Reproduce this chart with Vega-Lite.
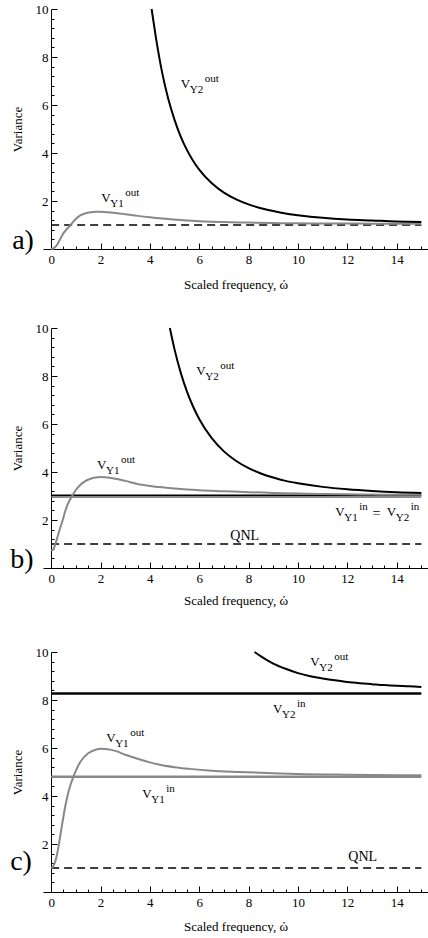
{
  "$schema": "https://vega.github.io/schema/vega-lite/v6.json",
  "padding": {"left": 10, "top": 3, "right": 0, "bottom": 0},
  "spacing": 31,
  "config": {
    "view": {"stroke": null},
    "font": "Liberation Serif",
    "axis": {
      "grid": false, "domainColor": "black", "domainWidth": 1, "tickColor": "black", "tickWidth": 1,
      "labelFont": "Liberation Serif", "labelFontSize": 13, "labelColor": "black",
      "titleFont": "Liberation Serif", "titleFontSize": 13, "titleFontWeight": "normal", "titleColor": "black",
      "labelFlush": false, "labelOverlap": false, "format": "d"
    }
  },
  "datasets": {
    "curves": [
      {"p":"a","s":"Y1out","w":0,"v":0},{"p":"a","s":"Y1out","w":0.1,"v":0.03},{"p":"a","s":"Y1out","w":0.2,"v":0.12},{"p":"a","s":"Y1out","w":0.3,"v":0.28},{"p":"a","s":"Y1out","w":0.4,"v":0.48},{"p":"a","s":"Y1out","w":0.5,"v":0.66},{"p":"a","s":"Y1out","w":0.6,"v":0.79},{"p":"a","s":"Y1out","w":0.7,"v":0.9},{"p":"a","s":"Y1out","w":0.8,"v":1.02},{"p":"a","s":"Y1out","w":0.9,"v":1.14},{"p":"a","s":"Y1out","w":1.0,"v":1.25},{"p":"a","s":"Y1out","w":1.1,"v":1.34},{"p":"a","s":"Y1out","w":1.2,"v":1.41},{"p":"a","s":"Y1out","w":1.4,"v":1.49},{"p":"a","s":"Y1out","w":1.6,"v":1.53},{"p":"a","s":"Y1out","w":1.8,"v":1.55},{"p":"a","s":"Y1out","w":2.0,"v":1.55},{"p":"a","s":"Y1out","w":2.3,"v":1.53},{"p":"a","s":"Y1out","w":2.6,"v":1.5},{"p":"a","s":"Y1out","w":3.0,"v":1.45},{"p":"a","s":"Y1out","w":3.5,"v":1.38},{"p":"a","s":"Y1out","w":4.0,"v":1.32},{"p":"a","s":"Y1out","w":4.5,"v":1.27},{"p":"a","s":"Y1out","w":5.0,"v":1.23},{"p":"a","s":"Y1out","w":5.5,"v":1.19},{"p":"a","s":"Y1out","w":6.0,"v":1.16},{"p":"a","s":"Y1out","w":7.0,"v":1.12},{"p":"a","s":"Y1out","w":8.0,"v":1.1},{"p":"a","s":"Y1out","w":9.0,"v":1.08},{"p":"a","s":"Y1out","w":10,"v":1.07},{"p":"a","s":"Y1out","w":11,"v":1.065},{"p":"a","s":"Y1out","w":12,"v":1.06},{"p":"a","s":"Y1out","w":13,"v":1.055},{"p":"a","s":"Y1out","w":14,"v":1.05},{"p":"a","s":"Y1out","w":15,"v":1.05},
      {"p":"a","s":"Y2out","w":4.07,"v":10},{"p":"a","s":"Y2out","w":4.25,"v":8.78},{"p":"a","s":"Y2out","w":4.5,"v":7.34},{"p":"a","s":"Y2out","w":4.75,"v":6.24},{"p":"a","s":"Y2out","w":5.0,"v":5.38},{"p":"a","s":"Y2out","w":5.25,"v":4.68},{"p":"a","s":"Y2out","w":5.5,"v":4.13},{"p":"a","s":"Y2out","w":5.75,"v":3.68},{"p":"a","s":"Y2out","w":6.0,"v":3.31},{"p":"a","s":"Y2out","w":6.5,"v":2.75},{"p":"a","s":"Y2out","w":7.0,"v":2.35},{"p":"a","s":"Y2out","w":7.5,"v":2.07},{"p":"a","s":"Y2out","w":8.0,"v":1.86},{"p":"a","s":"Y2out","w":8.5,"v":1.7},{"p":"a","s":"Y2out","w":9.0,"v":1.58},{"p":"a","s":"Y2out","w":9.5,"v":1.48},{"p":"a","s":"Y2out","w":10,"v":1.41},{"p":"a","s":"Y2out","w":11,"v":1.3},{"p":"a","s":"Y2out","w":12,"v":1.23},{"p":"a","s":"Y2out","w":13,"v":1.19},{"p":"a","s":"Y2out","w":14,"v":1.15},{"p":"a","s":"Y2out","w":15,"v":1.13},
      {"p":"b","s":"Y1out","w":0,"v":0.76},{"p":"b","s":"Y1out","w":0.05,"v":0.74},{"p":"b","s":"Y1out","w":0.1,"v":0.8},{"p":"b","s":"Y1out","w":0.15,"v":0.93},{"p":"b","s":"Y1out","w":0.2,"v":1.1},{"p":"b","s":"Y1out","w":0.3,"v":1.45},{"p":"b","s":"Y1out","w":0.4,"v":1.78},{"p":"b","s":"Y1out","w":0.47,"v":2.0},{"p":"b","s":"Y1out","w":0.55,"v":2.3},{"p":"b","s":"Y1out","w":0.65,"v":2.6},{"p":"b","s":"Y1out","w":0.75,"v":2.82},{"p":"b","s":"Y1out","w":0.85,"v":3.0},{"p":"b","s":"Y1out","w":1.0,"v":3.25},{"p":"b","s":"Y1out","w":1.2,"v":3.48},{"p":"b","s":"Y1out","w":1.4,"v":3.63},{"p":"b","s":"Y1out","w":1.6,"v":3.72},{"p":"b","s":"Y1out","w":1.8,"v":3.77},{"p":"b","s":"Y1out","w":2.0,"v":3.79},{"p":"b","s":"Y1out","w":2.3,"v":3.77},{"p":"b","s":"Y1out","w":2.6,"v":3.72},{"p":"b","s":"Y1out","w":3.0,"v":3.63},{"p":"b","s":"Y1out","w":3.5,"v":3.5},{"p":"b","s":"Y1out","w":4.0,"v":3.42},{"p":"b","s":"Y1out","w":4.5,"v":3.36},{"p":"b","s":"Y1out","w":5.0,"v":3.31},{"p":"b","s":"Y1out","w":5.5,"v":3.27},{"p":"b","s":"Y1out","w":6.0,"v":3.24},{"p":"b","s":"Y1out","w":7.0,"v":3.2},{"p":"b","s":"Y1out","w":8.0,"v":3.16},{"p":"b","s":"Y1out","w":9.0,"v":3.13},{"p":"b","s":"Y1out","w":10,"v":3.1},{"p":"b","s":"Y1out","w":11,"v":3.08},{"p":"b","s":"Y1out","w":12,"v":3.07},{"p":"b","s":"Y1out","w":13,"v":3.06},{"p":"b","s":"Y1out","w":14,"v":3.05},{"p":"b","s":"Y1out","w":15,"v":3.05},
      {"p":"b","s":"Y2out","w":4.81,"v":10},{"p":"b","s":"Y2out","w":5.0,"v":9.11},{"p":"b","s":"Y2out","w":5.25,"v":8.14},{"p":"b","s":"Y2out","w":5.5,"v":7.36},{"p":"b","s":"Y2out","w":5.75,"v":6.73},{"p":"b","s":"Y2out","w":6.0,"v":6.21},{"p":"b","s":"Y2out","w":6.5,"v":5.42},{"p":"b","s":"Y2out","w":7.0,"v":4.86},{"p":"b","s":"Y2out","w":7.5,"v":4.46},{"p":"b","s":"Y2out","w":8.0,"v":4.16},{"p":"b","s":"Y2out","w":8.5,"v":3.94},{"p":"b","s":"Y2out","w":9.0,"v":3.77},{"p":"b","s":"Y2out","w":9.5,"v":3.63},{"p":"b","s":"Y2out","w":10,"v":3.53},{"p":"b","s":"Y2out","w":11,"v":3.38},{"p":"b","s":"Y2out","w":12,"v":3.28},{"p":"b","s":"Y2out","w":13,"v":3.21},{"p":"b","s":"Y2out","w":14,"v":3.16},{"p":"b","s":"Y2out","w":15,"v":3.13},
      {"p":"c","s":"Y1out","w":0,"v":1.0},{"p":"c","s":"Y1out","w":0.1,"v":1.1},{"p":"c","s":"Y1out","w":0.2,"v":1.4},{"p":"c","s":"Y1out","w":0.3,"v":1.9},{"p":"c","s":"Y1out","w":0.36,"v":2.28},{"p":"c","s":"Y1out","w":0.45,"v":2.85},{"p":"c","s":"Y1out","w":0.55,"v":3.45},{"p":"c","s":"Y1out","w":0.65,"v":3.95},{"p":"c","s":"Y1out","w":0.75,"v":4.35},{"p":"c","s":"Y1out","w":0.9,"v":4.8},{"p":"c","s":"Y1out","w":1.0,"v":5.05},{"p":"c","s":"Y1out","w":1.2,"v":5.45},{"p":"c","s":"Y1out","w":1.5,"v":5.78},{"p":"c","s":"Y1out","w":1.8,"v":5.93},{"p":"c","s":"Y1out","w":2.0,"v":5.97},{"p":"c","s":"Y1out","w":2.3,"v":5.95},{"p":"c","s":"Y1out","w":2.6,"v":5.88},{"p":"c","s":"Y1out","w":3.0,"v":5.72},{"p":"c","s":"Y1out","w":3.5,"v":5.55},{"p":"c","s":"Y1out","w":4.0,"v":5.4},{"p":"c","s":"Y1out","w":4.5,"v":5.28},{"p":"c","s":"Y1out","w":5.0,"v":5.2},{"p":"c","s":"Y1out","w":5.6,"v":5.13},{"p":"c","s":"Y1out","w":6.5,"v":5.05},{"p":"c","s":"Y1out","w":7.6,"v":5.0},{"p":"c","s":"Y1out","w":9.0,"v":4.95},{"p":"c","s":"Y1out","w":10,"v":4.92},{"p":"c","s":"Y1out","w":12,"v":4.89},{"p":"c","s":"Y1out","w":15,"v":4.86},
      {"p":"c","s":"Y2out","w":8.24,"v":10},{"p":"c","s":"Y2out","w":8.5,"v":9.82},{"p":"c","s":"Y2out","w":9.0,"v":9.52},{"p":"c","s":"Y2out","w":9.5,"v":9.3},{"p":"c","s":"Y2out","w":10,"v":9.12},{"p":"c","s":"Y2out","w":10.5,"v":8.99},{"p":"c","s":"Y2out","w":11,"v":8.9},{"p":"c","s":"Y2out","w":11.5,"v":8.82},{"p":"c","s":"Y2out","w":12,"v":8.75},{"p":"c","s":"Y2out","w":12.5,"v":8.7},{"p":"c","s":"Y2out","w":13,"v":8.66},{"p":"c","s":"Y2out","w":13.5,"v":8.62},{"p":"c","s":"Y2out","w":14,"v":8.59},{"p":"c","s":"Y2out","w":14.5,"v":8.57},{"p":"c","s":"Y2out","w":15,"v":8.54}
    ],
    "hlines": [
      {"p":"a","s":"QNL","v":1,"w":0,"w2":15},
      {"p":"b","s":"QNL","v":1,"w":0,"w2":15},
      {"p":"b","s":"gray","v":2.96,"w":0,"w2":15},
      {"p":"b","s":"black","v":3.03,"w":0,"w2":15},
      {"p":"c","s":"QNL","v":1,"w":0,"w2":15},
      {"p":"c","s":"gray","v":4.8,"w":0,"w2":15},
      {"p":"c","s":"black","v":8.27,"w":0,"w2":15}
    ],
    "labels": [
      {"p":"a","w":5.25,"v":6.7,"m":"V","sub":"Y2","sup":"out"},
      {"p":"a","w":2.03,"v":1.95,"m":"V","sub":"Y1","sup":"out"},
      {"p":"b","w":5.88,"v":8.06,"m":"V","sub":"Y2","sup":"out"},
      {"p":"b","w":1.86,"v":4.13,"m":"V","sub":"Y1","sup":"out"},
      {"p":"b","w":11.51,"v":2.18,"m":"V","sub":"Y1","sup":"in"},
      {"p":"b","w":13.6,"v":2.18,"m":"V","sub":"Y2","sup":"in"},
      {"p":"c","w":10.5,"v":9.42,"m":"V","sub":"Y2","sup":"out"},
      {"p":"c","w":8.99,"v":7.44,"m":"V","sub":"Y2","sup":"in"},
      {"p":"c","w":2.23,"v":6.25,"m":"V","sub":"Y1","sup":"out"},
      {"p":"c","w":3.69,"v":3.93,"m":"V","sub":"Y1","sup":"in"}
    ],
    "texts": [
      {"p":"b","w":13.02,"v":2.1,"t":"="},
      {"p":"b","w":7.26,"v":1.18,"t":"QNL"},
      {"p":"c","w":12.04,"v":1.29,"t":"QNL"}
    ],
    "letters": [
      {"p":"a","w":-1.58,"v":0,"t":"a)"},
      {"p":"b","w":-1.66,"v":0,"t":"b)"},
      {"p":"c","w":-1.66,"v":0.9,"t":"c)"}
    ]
  },
  "vconcat": [
    {
      "width": 385, "height": 240,
      "encoding": {
        "x": {"field": "w", "type": "quantitative", "scale": {"domain": [-0.33, 15.27], "nice": false, "zero": false},
          "axis": {"title": "Scaled frequency, ώ", "values": [0,0.5,1,1.5,2,2.5,3,3.5,4,4.5,5,5.5,6,6.5,7,7.5,8,8.5,9,9.5,10,10.5,11,11.5,12,12.5,13,13.5,14,14.5,15],
            "labelExpr": "datum.value % 2 === 0 ? datum.label : ''",
            "tickSize": {"condition": {"test": "datum.value % 2 === 0", "value": -6}, "value": -3},
            "labelPadding": 10, "titlePadding": 9}},
        "y": {"field": "v", "type": "quantitative", "scale": {"domain": [0, 10], "nice": false},
          "axis": {"title": "Variance", "offset": -8, "values": [0,0.4,0.8,1.2,1.6,2,2.4,2.8,3.2,3.6,4,4.4,4.8,5.2,5.6,6,6.4,6.8,7.2,7.6,8,8.4,8.8,9.2,9.6,10],
            "labelExpr": "datum.value > 0 && datum.value % 2 === 0 ? datum.label : ''",
            "tickSize": {"condition": {"test": "datum.value % 2 === 0", "value": -6}, "value": -3},
            "labelPadding": 9, "titlePadding": 11}}
      },
      "layer": [
        {"data": {"name": "hlines"}, "transform": [{"filter": "datum.p === 'a' && datum.s === 'QNL'"}],
         "mark": {"type": "rule", "color": "black", "strokeWidth": 1.5, "strokeDash": [8, 5]},
         "encoding": {"x2": {"field": "w2"}}},
        {"data": {"name": "curves"}, "transform": [{"filter": "datum.p === 'a' && datum.s === 'Y1out'"}],
         "mark": {"type": "line", "color": "#888888", "strokeWidth": 2, "interpolate": "monotone"}},
        {"data": {"name": "curves"}, "transform": [{"filter": "datum.p === 'a' && datum.s === 'Y2out'"}],
         "mark": {"type": "line", "color": "black", "strokeWidth": 2, "interpolate": "monotone"}},
        {"data": {"name": "labels"}, "transform": [{"filter": "datum.p === 'a'"}],
         "mark": {"type": "text", "align": "left", "baseline": "alphabetic", "fontSize": 13, "font": "Liberation Serif", "color": "black"},
         "encoding": {"text": {"field": "m"}}},
        {"data": {"name": "labels"}, "transform": [{"filter": "datum.p === 'a'"}],
         "mark": {"type": "text", "align": "left", "baseline": "alphabetic", "fontSize": 11, "dx": 9, "dy": 5, "font": "Liberation Serif", "color": "black"},
         "encoding": {"text": {"field": "sub"}}},
        {"data": {"name": "labels"}, "transform": [{"filter": "datum.p === 'a'"}],
         "mark": {"type": "text", "align": "left", "baseline": "alphabetic", "fontSize": 11, "dx": 24, "dy": -6, "font": "Liberation Serif", "color": "black"},
         "encoding": {"text": {"field": "sup"}}},
        {"data": {"name": "letters"}, "transform": [{"filter": "datum.p === 'a'"}],
         "mark": {"type": "text", "align": "left", "baseline": "alphabetic", "fontSize": 28, "font": "Liberation Serif", "color": "black"},
         "encoding": {"text": {"field": "t"}}}
      ]
    },
    {
      "width": 385, "height": 240,
      "encoding": {
        "x": {"field": "w", "type": "quantitative", "scale": {"domain": [-0.33, 15.27], "nice": false, "zero": false},
          "axis": {"title": ["Scaled frequency, ώ", " "], "titleLineHeight": 8, "values": [0,0.5,1,1.5,2,2.5,3,3.5,4,4.5,5,5.5,6,6.5,7,7.5,8,8.5,9,9.5,10,10.5,11,11.5,12,12.5,13,13.5,14,14.5,15],
            "labelExpr": "datum.value % 2 === 0 ? datum.label : ''",
            "tickSize": {"condition": {"test": "datum.value % 2 === 0", "value": -6}, "value": -3},
            "labelPadding": 10, "titlePadding": 6}},
        "y": {"field": "v", "type": "quantitative", "scale": {"domain": [0, 10], "nice": false},
          "axis": {"title": "Variance", "offset": -8, "values": [0,0.4,0.8,1.2,1.6,2,2.4,2.8,3.2,3.6,4,4.4,4.8,5.2,5.6,6,6.4,6.8,7.2,7.6,8,8.4,8.8,9.2,9.6,10],
            "labelExpr": "datum.value > 0 && datum.value % 2 === 0 ? datum.label : ''",
            "tickSize": {"condition": {"test": "datum.value % 2 === 0", "value": -6}, "value": -3},
            "labelPadding": 9, "titlePadding": 11}}
      },
      "layer": [
        {"data": {"name": "hlines"}, "transform": [{"filter": "datum.p === 'b' && datum.s === 'QNL'"}],
         "mark": {"type": "rule", "color": "black", "strokeWidth": 1.5, "strokeDash": [8, 5]},
         "encoding": {"x2": {"field": "w2"}}},
        {"data": {"name": "hlines"}, "transform": [{"filter": "datum.p === 'b' && datum.s === 'gray'"}],
         "mark": {"type": "rule", "color": "#666666", "strokeWidth": 1.5},
         "encoding": {"x2": {"field": "w2"}}},
        {"data": {"name": "hlines"}, "transform": [{"filter": "datum.p === 'b' && datum.s === 'black'"}],
         "mark": {"type": "rule", "color": "black", "strokeWidth": 1.5},
         "encoding": {"x2": {"field": "w2"}}},
        {"data": {"name": "curves"}, "transform": [{"filter": "datum.p === 'b' && datum.s === 'Y1out'"}],
         "mark": {"type": "line", "color": "#888888", "strokeWidth": 2, "interpolate": "monotone"}},
        {"data": {"name": "curves"}, "transform": [{"filter": "datum.p === 'b' && datum.s === 'Y2out'"}],
         "mark": {"type": "line", "color": "black", "strokeWidth": 2, "interpolate": "monotone"}},
        {"data": {"name": "labels"}, "transform": [{"filter": "datum.p === 'b'"}],
         "mark": {"type": "text", "align": "left", "baseline": "alphabetic", "fontSize": 13, "font": "Liberation Serif", "color": "black"},
         "encoding": {"text": {"field": "m"}}},
        {"data": {"name": "labels"}, "transform": [{"filter": "datum.p === 'b'"}],
         "mark": {"type": "text", "align": "left", "baseline": "alphabetic", "fontSize": 11, "dx": 9, "dy": 5, "font": "Liberation Serif", "color": "black"},
         "encoding": {"text": {"field": "sub"}}},
        {"data": {"name": "labels"}, "transform": [{"filter": "datum.p === 'b'"}],
         "mark": {"type": "text", "align": "left", "baseline": "alphabetic", "fontSize": 11, "dx": 24, "dy": -6, "font": "Liberation Serif", "color": "black"},
         "encoding": {"text": {"field": "sup"}}},
        {"data": {"name": "texts"}, "transform": [{"filter": "datum.p === 'b'"}],
         "mark": {"type": "text", "align": "left", "baseline": "alphabetic", "fontSize": 14, "font": "Liberation Serif", "color": "black"},
         "encoding": {"text": {"field": "t"}}},
        {"data": {"name": "letters"}, "transform": [{"filter": "datum.p === 'b'"}],
         "mark": {"type": "text", "align": "left", "baseline": "alphabetic", "fontSize": 28, "font": "Liberation Serif", "color": "black"},
         "encoding": {"text": {"field": "t"}}}
      ]
    },
    {
      "width": 385, "height": 240,
      "encoding": {
        "x": {"field": "w", "type": "quantitative", "scale": {"domain": [-0.33, 15.27], "nice": false, "zero": false},
          "axis": {"title": "Scaled frequency, ώ", "values": [0,0.5,1,1.5,2,2.5,3,3.5,4,4.5,5,5.5,6,6.5,7,7.5,8,8.5,9,9.5,10,10.5,11,11.5,12,12.5,13,13.5,14,14.5,15],
            "labelExpr": "datum.value % 2 === 0 ? datum.label : ''",
            "tickSize": {"condition": {"test": "datum.value % 2 === 0", "value": -6}, "value": -3},
            "labelPadding": 10, "titlePadding": 8}},
        "y": {"field": "v", "type": "quantitative", "scale": {"domain": [0, 10], "nice": false},
          "axis": {"title": "Variance", "offset": -8, "values": [0,0.4,0.8,1.2,1.6,2,2.4,2.8,3.2,3.6,4,4.4,4.8,5.2,5.6,6,6.4,6.8,7.2,7.6,8,8.4,8.8,9.2,9.6,10],
            "labelExpr": "datum.value > 0 && datum.value % 2 === 0 ? datum.label : ''",
            "tickSize": {"condition": {"test": "datum.value % 2 === 0", "value": -6}, "value": -3},
            "labelPadding": 9, "titlePadding": 11}}
      },
      "layer": [
        {"data": {"name": "hlines"}, "transform": [{"filter": "datum.p === 'c' && datum.s === 'QNL'"}],
         "mark": {"type": "rule", "color": "black", "strokeWidth": 1.5, "strokeDash": [8, 5]},
         "encoding": {"x2": {"field": "w2"}}},
        {"data": {"name": "hlines"}, "transform": [{"filter": "datum.p === 'c' && datum.s === 'gray'"}],
         "mark": {"type": "rule", "color": "#888888", "strokeWidth": 2.5},
         "encoding": {"x2": {"field": "w2"}}},
        {"data": {"name": "hlines"}, "transform": [{"filter": "datum.p === 'c' && datum.s === 'black'"}],
         "mark": {"type": "rule", "color": "black", "strokeWidth": 2.5},
         "encoding": {"x2": {"field": "w2"}}},
        {"data": {"name": "curves"}, "transform": [{"filter": "datum.p === 'c' && datum.s === 'Y1out'"}],
         "mark": {"type": "line", "color": "#888888", "strokeWidth": 2, "interpolate": "monotone"}},
        {"data": {"name": "curves"}, "transform": [{"filter": "datum.p === 'c' && datum.s === 'Y2out'"}],
         "mark": {"type": "line", "color": "black", "strokeWidth": 2, "interpolate": "monotone"}},
        {"data": {"name": "labels"}, "transform": [{"filter": "datum.p === 'c'"}],
         "mark": {"type": "text", "align": "left", "baseline": "alphabetic", "fontSize": 13, "font": "Liberation Serif", "color": "black"},
         "encoding": {"text": {"field": "m"}}},
        {"data": {"name": "labels"}, "transform": [{"filter": "datum.p === 'c'"}],
         "mark": {"type": "text", "align": "left", "baseline": "alphabetic", "fontSize": 11, "dx": 9, "dy": 5, "font": "Liberation Serif", "color": "black"},
         "encoding": {"text": {"field": "sub"}}},
        {"data": {"name": "labels"}, "transform": [{"filter": "datum.p === 'c'"}],
         "mark": {"type": "text", "align": "left", "baseline": "alphabetic", "fontSize": 11, "dx": 24, "dy": -6, "font": "Liberation Serif", "color": "black"},
         "encoding": {"text": {"field": "sup"}}},
        {"data": {"name": "texts"}, "transform": [{"filter": "datum.p === 'c'"}],
         "mark": {"type": "text", "align": "left", "baseline": "alphabetic", "fontSize": 14, "font": "Liberation Serif", "color": "black"},
         "encoding": {"text": {"field": "t"}}},
        {"data": {"name": "letters"}, "transform": [{"filter": "datum.p === 'c'"}],
         "mark": {"type": "text", "align": "left", "baseline": "alphabetic", "fontSize": 28, "font": "Liberation Serif", "color": "black"},
         "encoding": {"text": {"field": "t"}}}
      ]
    }
  ]
}
